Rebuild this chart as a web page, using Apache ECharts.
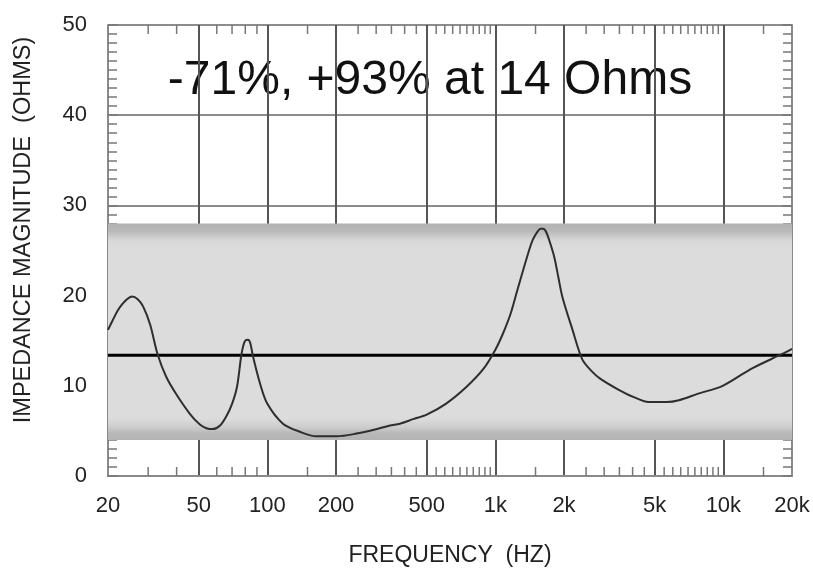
<!DOCTYPE html>
<html>
<head>
<meta charset="utf-8">
<script src="https://cdn.jsdelivr.net/npm/echarts@6/dist/echarts.min.js"></script>
<style>
  html, body { margin: 0; padding: 0; background: #fff; }
  #chart { width: 813px; height: 572px; }
</style>
</head>
<body>
<div id="chart"></div>
<script>
// Impedance magnitude sweep (Hz, ohms)
const freqHz = [20, 21, 22, 23, 24, 25.5, 27, 28.5, 30.6, 33, 36, 40, 45.7, 50.6, 54, 57.6, 62, 66, 70, 73.6, 77, 79.5, 82, 84, 86.6, 93, 100,
  117, 139, 164, 202, 246, 303, 345, 381, 436, 500, 606, 748, 888, 1000, 1080, 1163, 1258, 1393, 1460, 1531, 1580, 1620, 1674,
  1740, 1816, 1890, 1970, 2180, 2408, 2650, 2880, 3400, 4000, 4700, 5650, 6380, 7700, 9930, 13070, 16330, 19000, 20000];
const impedanceOhms = [16.2, 17.3, 18.3, 19.0, 19.5, 19.9, 19.6, 18.8, 16.8, 13.5, 11.0, 9.0, 6.9, 5.7, 5.3, 5.2, 5.6, 6.6, 8.0, 9.9, 13.5, 14.9, 15.1, 14.8, 13.2, 10.2, 8.0,
  5.8, 4.9, 4.4, 4.4, 4.7, 5.2, 5.6, 5.8, 6.3, 6.8, 8.0, 9.9, 11.9, 14.0, 15.8, 17.9, 20.9, 24.7, 26.2, 27.1, 27.4, 27.4, 27.0,
  25.8, 24.2, 22.0, 19.8, 16.2, 12.9, 11.6, 10.8, 9.7, 8.8, 8.2, 8.2, 8.4, 9.1, 10.0, 11.8, 13.0, 13.8, 14.1];

// Reference level and tolerance band
const referenceOhms = 13.4;
const bandOhms = [4.0, 28.0];
const annotation = '-71%, +93% at 14 Ohms';

// Axis ticks
const freqLabels = [20, 50, 100, 200, 500, 1000, 2000, 5000, 10000, 20000];
const freqGrid = [50, 100, 200, 500, 1000, 2000, 5000, 10000];
const freqMinor = [30, 40, 60, 70, 80, 90, 150, 250, 300, 350, 400, 450, 550, 600, 650, 700, 750, 800, 850, 900, 950,
  1500, 2500, 3000, 3500, 4000, 4500, 5500, 6000, 6500, 7000, 7500, 8000, 8500, 9000, 9500, 15000];
const yMin = 0, yMax = 50, yStep = 10;

const FONT = '"Liberation Sans", Arial, Helvetica, sans-serif';
const frameColor = '#8a8a8a';

function fmtFreq(v) {
  return v >= 1000 ? (v / 1000) + 'k' : String(v);
}

const chart = echarts.init(document.getElementById('chart'), null, { renderer: 'canvas' });

const option = {
  backgroundColor: '#ffffff',
  animation: false,
  grid: { left: 108, right: 21, top: 25, bottom: 92, containLabel: false },
  xAxis: [
    {
      type: 'log', logBase: 10, min: 20, max: 20000, position: 'bottom',
      name: 'FREQUENCY  (HZ)', nameLocation: 'middle', nameGap: 68,
      nameTextStyle: { fontFamily: FONT, fontSize: 23, color: '#222' },
      axisLine: { show: true, lineStyle: { color: frameColor, width: 2 } },
      axisTick: { show: false, customValues: freqGrid },
      axisLabel: {
        customValues: freqLabels, formatter: fmtFreq, margin: 19,
        fontFamily: FONT, fontSize: 22, color: '#222'
      },
      splitLine: { show: true, lineStyle: { color: '#555', width: 2 } },
      minorTick: { show: false }, minorSplitLine: { show: false }
    },
    {
      type: 'log', logBase: 10, min: 20, max: 20000, position: 'top',
      axisLine: { show: true, lineStyle: { color: frameColor, width: 2 } },
      axisTick: { show: false }, axisLabel: { show: false }, splitLine: { show: false }
    }
  ],
  yAxis: [
    {
      type: 'value', min: yMin, max: yMax, interval: yStep, position: 'left',
      axisLine: { show: true, lineStyle: { color: frameColor, width: 2 } },
      axisTick: { show: true, inside: true, length: 10, lineStyle: { color: '#777', width: 1.5 } },
      minorTick: { show: true, splitNumber: 10, length: 9, lineStyle: { color: '#777', width: 1.5 } },
      axisLabel: { margin: 21, fontFamily: FONT, fontSize: 22, color: '#222' },
      splitLine: { show: true, lineStyle: { color: '#666', width: 1.5 } }
    },
    {
      type: 'value', min: yMin, max: yMax, interval: yStep, position: 'right',
      axisLine: { show: true, lineStyle: { color: frameColor, width: 2 } },
      axisTick: { show: true, inside: true, length: 10, lineStyle: { color: '#777', width: 1.5 } },
      minorTick: { show: true, splitNumber: 10, length: 9, lineStyle: { color: '#777', width: 1.5 } },
      axisLabel: { show: false },
      splitLine: { show: false }
    }
  ],
  graphic: [
    {
      type: 'text', x: 24, y: 230, rotation: Math.PI / 2,
      style: {
        text: 'IMPEDANCE MAGNITUDE  (OHMS)', font: '23.5px ' + FONT, fill: '#222',
        align: 'center', verticalAlign: 'middle', textAlign: 'center', textVerticalAlign: 'middle'
      }
    },
    {
      type: 'text', x: 430, y: 81,
      style: {
        text: annotation, font: '48px ' + FONT, fill: '#111',
        align: 'center', verticalAlign: 'middle', textAlign: 'center', textVerticalAlign: 'middle'
      }
    }
  ],
  series: [
    {
      // shaded tolerance band, kept beneath the grid lines
      type: 'line', z: -1, data: [], silent: true,
      xAxisIndex: 0, yAxisIndex: 0,
      markArea: {
        silent: true,
        itemStyle: {
          color: {
            type: 'linear', x: 0, y: 0, x2: 0, y2: 1,
            colorStops: [
              { offset: 0.0, color: '#b2b2b2' },
              { offset: 0.035, color: '#b8b8b8' },
              { offset: 0.075, color: '#d6d6d6' },
              { offset: 0.11, color: '#dcdcdc' },
              { offset: 0.9, color: '#dcdcdc' },
              { offset: 0.94, color: '#cdcdcd' },
              { offset: 0.97, color: '#b8b8b8' },
              { offset: 1.0, color: '#b4b4b4' }
            ]
          }
        },
        data: [[{ yAxis: bandOhms[1] }, { yAxis: bandOhms[0] }]]
      }
    },
    {
      // minor frequency ticks along the top and bottom frame
      type: 'custom', xAxisIndex: 0, yAxisIndex: 0, silent: true, z: 3,
      data: freqMinor.map(f => [f, yMin]),
      encode: { x: 0, y: 1 },
      renderItem: function (params, api) {
        const f = api.value(0);
        const b = api.coord([f, yMin]);
        const t = api.coord([f, yMax]);
        const st = { stroke: '#777', lineWidth: 1.5 };
        return {
          type: 'group',
          children: [
            { type: 'line', shape: { x1: b[0], y1: b[1], x2: b[0], y2: b[1] - 9 }, style: st },
            { type: 'line', shape: { x1: t[0], y1: t[1], x2: t[0], y2: t[1] + 9 }, style: st }
          ]
        };
      }
    },
    {
      // reference level
      type: 'line', xAxisIndex: 0, yAxisIndex: 0, z: 4, symbol: 'none',
      data: [[20, referenceOhms], [20000, referenceOhms]],
      lineStyle: { color: '#000', width: 3 }
    },
    {
      name: 'Impedance', type: 'line', xAxisIndex: 0, yAxisIndex: 0, z: 5,
      symbol: 'none', smooth: 0.3,
      data: freqHz.map((f, i) => [f, impedanceOhms[i]]),
      lineStyle: { color: '#2e2e2e', width: 2 }
    }
  ]
};

chart.setOption(option);
</script>
</body>
</html>
